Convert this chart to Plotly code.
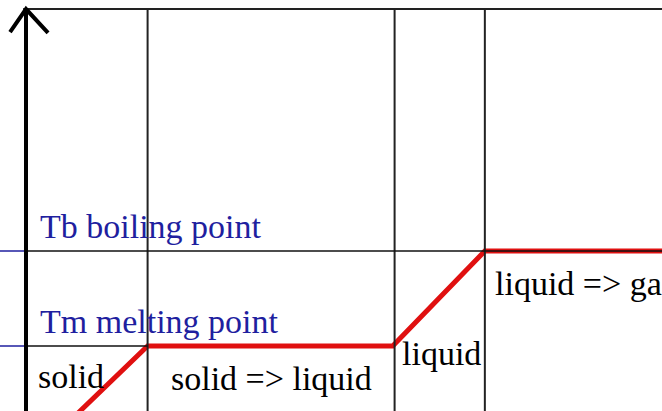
import plotly.graph_objects as go

# heating curve: heat added vs temperature
heat = [45, 128, 386, 483, 700]
temperature = [-80, 0, 0, 100, 100]

t_melt = 0
t_boil = 100
phase_bounds = [128, 388, 483]

labels = ["solid", "solid => liquid", "liquid", "liquid => gas"]

BLUE = "#1f1f9f"
INK = "#111111"
SERIF = "Liberation Serif, Times New Roman, serif"

x_lo, x_hi = -27.37, 669.47
y_lo, y_hi = -68.42, 364.2
y_top = 354.7

fig = go.Figure()

shapes = []
# vertical phase boundaries
for xb in phase_bounds:
    shapes.append(dict(type="line", x0=xb, x1=xb, y0=y_lo - 10, y1=y_top,
                       line=dict(color="#222222", width=2)))
# top frame line
shapes.append(dict(type="line", x0=-3, x1=x_hi + 10, y0=y_top, y1=y_top,
                   line=dict(color="#222222", width=2)))
# boiling / melting levels
shapes.append(dict(type="line", x0=0, x1=x_hi + 10, y0=t_boil, y1=t_boil,
                   line=dict(color=INK, width=1.5)))
shapes.append(dict(type="line", x0=0, x1=phase_bounds[0], y0=t_melt, y1=t_melt,
                   line=dict(color=INK, width=1.5)))
for yv in (t_boil, t_melt):
    shapes.append(dict(type="line", x0=x_lo, x1=0, y0=yv, y1=yv,
                       line=dict(color=BLUE, width=1.5)))
# temperature axis with arrow head
shapes.append(dict(type="line", x0=0, x1=0, y0=y_lo - 10, y1=y_top,
                   line=dict(color="black", width=4)))
shapes.append(dict(type="path", path=f"M -16.8 330.5 L 0 {y_top} L 23.2 329.5",
                   line=dict(color="black", width=4)))

fig.add_trace(go.Scatter(
    x=heat, y=temperature, mode="lines",
    line=dict(color="#e01010", width=5),
    hoverinfo="skip", showlegend=False,
))

annotations = [
    dict(x=12.6, y=125.8, text="Tb boiling point", font=dict(color=BLUE)),
    dict(x=12.6, y=25.8, text="Tm melting point", font=dict(color=BLUE)),
    dict(x=11.0, y=-32.6, text=labels[0]),
    dict(x=150.0, y=-33.7, text=labels[1]),
    dict(x=393.5, y=-7.9, text=labels[2]),
    dict(x=491.6, y=66.3, text=labels[3]),
]
for a in annotations:
    font = dict(family=SERIF, size=34, color="black")
    font.update(a.pop("font", {}))
    fig.add_annotation(**a, xref="x", yref="y", xanchor="left", yanchor="middle",
                       showarrow=False, font=font)

fig.update_layout(
    width=662, height=411,
    margin=dict(l=0, r=0, t=0, b=0, pad=0),
    paper_bgcolor="white", plot_bgcolor="white",
    shapes=shapes,
    xaxis=dict(range=[x_lo, x_hi], visible=False, fixedrange=True),
    yaxis=dict(range=[y_lo, y_hi], visible=False, fixedrange=True),
)

# drop the default page margin so the figure sits at the window corner
fig.write_html("out.html", config={"displayModeBar": False},
               post_script="document.body.style.margin = '0';")
